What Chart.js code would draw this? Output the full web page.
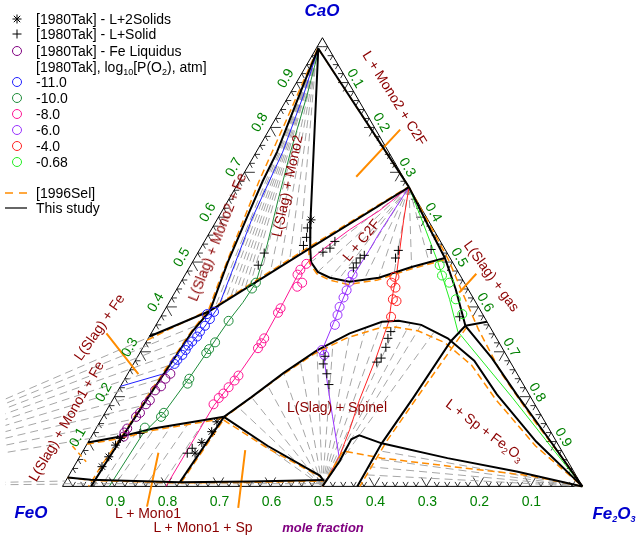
<!DOCTYPE html>
<html><head><meta charset="utf-8">
<script src="https://cdn.jsdelivr.net/npm/chart.js@4.4.0/dist/chart.umd.min.js"></script>
<style>
html,body{margin:0;padding:0;background:#fff;}
#wrap{position:relative;width:638px;height:535px;overflow:hidden;font-family:"Liberation Sans",Arial,sans-serif;}
#c{position:absolute;left:0;top:0;}
.t{position:absolute;white-space:nowrap;line-height:1;}
.rl{color:#8b0000;font-size:14px;}
.ax{color:#008000;font-size:14px;}
.vx{color:#0000cd;font-size:17px;font-weight:bold;font-style:italic;}
.mf{color:#800080;font-size:13px;font-weight:bold;font-style:italic;}
.lg{position:absolute;left:36px;font-size:14px;color:#000;white-space:nowrap;height:16px;line-height:16px;}
.ic{position:absolute;left:5px;}
sub{font-size:9px;vertical-align:-3px;line-height:0;}
</style></head><body>
<div id="wrap"><canvas id="c" width="638" height="535"></canvas>
<div id="legend"></div>
<div id="labels"></div>
</div>
<script>
// ---------- DATA (ternary compositions: [x(CaO), x(Fe2O3)], FeO = 1 - both) ----------
const VERTICES = [[1,0],[0,0],[0,1],[1,0]];
const AXIS_TICKS = [0.1,0.2,0.3,0.4,0.5,0.6,0.7,0.8,0.9];
const MINOR_TICKS = [0.02,0.04,0.06,0.08,0.1,0.12,0.14,0.16,0.18,0.2,0.22,0.24,0.26,0.28,0.3,0.32,0.34,0.36,0.38,0.4,0.42,0.44,0.46,0.48,0.5,0.52,0.54,0.56,0.58,0.6,0.62,0.64,0.66,0.68,0.7,0.72,0.74,0.76,0.78,0.8,0.82,0.84,0.86,0.88,0.9,0.92,0.94,0.96,0.98];
const MAJOR_TICKS = [0.1,0.2,0.3,0.4,0.5,0.6,0.7,0.8,0.9];

// This study: phase boundaries
const L1 = [[0.976,0.004],[0.90,0.015],[0.82,0.028],[0.745,0.040],[0.68,0.045],[0.60,0.055],[0.50,0.068],[0.391,0.088],[0.345,0.077],[0.280,0.072],[0.205,0.066],[0.111,0.060],[0.05,0.057],[0,0.055]];
const LINE_B = [[0.334,0],[0.391,0.088]];
const LINE_C = [[0.391,0.088],[0.531,0.211],[0.667,0.333]];
const LINE_L2 = [[0.976,0.004],[0.592,0.181],[0.531,0.211]];
const MONO2_C2F = [[0.976,0.004],[0.667,0.333]];
const DOME_C2F = [[0.531,0.211],[0.500,0.228],[0.478,0.252],[0.465,0.282],[0.456,0.324],[0.465,0.376],[0.489,0.427],[0.509,0.481]];
const LINE_E = [[0.667,0.333],[0.581,0.413],[0.509,0.481],[0.439,0.537],[0.358,0.596]];
const LINE_S_EDGE = [[0.358,0.596],[0.367,0.633]];
const S_TO_FE2O3 = [[0.358,0.596],[0.286,0.683],[0.205,0.771],[0.100,0.889],[0,1]];
const SPINEL_DOME = [[0.155,0.233],[0.199,0.264],[0.253,0.299],[0.303,0.338],[0.341,0.382],[0.367,0.431],[0.369,0.462],[0.360,0.510],[0.330,0.576],[0.280,0.652],[0.205,0.733],[0.100,0.861],[0,1]];
const LINE_H = [[0.358,0.596],[0.323,0.585],[0.199,0.576],[0.096,0.566],[0,0.567]];
const HUMP = [[0,0.5],[0.057,0.505],[0.105,0.503],[0.114,0.514],[0.096,0.566],[0.063,0.709],[0.033,0.857],[0,1]];
const LINE_J = [[0.009,0.221],[0.155,0.233]];
const LINE_J2 = [[0.155,0.233],[0.090,0.350],[0.024,0.483],[0.012,0.497]];
const LINE_K = [[0.020,0],[0.015,0.047],[0.009,0.221],[0.011,0.358],[0.014,0.495]];
const LINE_L = [[0.098,0],[0.111,0.056],[0.129,0.110],[0.151,0.212],[0.155,0.233]];

// This study: iso-P(O2) lines
const ISO_M11 = [[0.975,0.004],[0.87,0.028],[0.745,0.051],[0.598,0.066],[0.476,0.087],[0.40,0.100],[0.36,0.096],[0.32,0.089],[0.28,0.083],[0.253,0.074],[0.223,0]];
const ISO_M10 = [[0.975,0.006],[0.87,0.035],[0.745,0.066],[0.64,0.095],[0.54,0.124],[0.454,0.145],[0.41,0.142],[0.369,0.135],[0.306,0.129],[0.24,0.123],[0.164,0.113],[0.118,0.096],[0,0.09]];
const ISO_M8 = [[0.667,0.333],[0.614,0.302],[0.572,0.266],[0.53,0.238],[0.50,0.222],[0.47,0.217],[0.41,0.220],[0.33,0.222],[0.26,0.215],[0.18,0.201],[0.09,0.200],[0,0.199]];
const ISO_M6 = [[0.667,0.333],[0.563,0.327],[0.526,0.327],[0.467,0.324],[0.40,0.333],[0.38,0.337],[0.308,0.347],[0.242,0.387],[0.155,0.442],[0.063,0.501]];
const ISO_M4 = [[0.667,0.333],[0.592,0.360],[0.476,0.405],[0.417,0.425],[0.367,0.444],[0.286,0.460],[0.192,0.475],[0.127,0.489],[0.068,0.499],[0,0.501]];
const ISO_M068 = [[0.667,0.333],[0.587,0.400],[0.500,0.472],[0.417,0.536],[0.345,0.588],[0.199,0.765],[0,1]];

// [1996Sel] boundaries
const SEL_L1 = [[0.975,0.003],[0.82,0.022],[0.68,0.038],[0.55,0.058],[0.45,0.074],[0.395,0.084],[0.345,0.075],[0.28,0.069],[0.205,0.063],[0.111,0.058],[0.05,0.052],[0,0.05]];
const SEL_B = [[0.326,0],[0.392,0.083]];
const SEL_C = [[0.392,0.085],[0.531,0.205],[0.667,0.331]];
const SEL_DOME = [[0.531,0.208],[0.498,0.226],[0.474,0.252],[0.46,0.283],[0.45,0.324],[0.46,0.376],[0.484,0.427],[0.505,0.482]];
const SEL_E = [[0.667,0.333],[0.58,0.418],[0.505,0.49],[0.43,0.555],[0.35,0.625],[0.25,0.72],[0.15,0.83],[0.05,0.945],[0,1]];
const SEL_MONO2_C2F = [[0.972,0.008],[0.667,0.333]];
const SEL_SPINEL = [[0.15,0.232],[0.195,0.262],[0.245,0.296],[0.295,0.336],[0.33,0.38],[0.352,0.43],[0.355,0.462],[0.347,0.51],[0.32,0.576],[0.27,0.652],[0.195,0.735],[0.09,0.865],[0,1]];
const SEL_H = [[0.355,0.60],[0.2,0.583],[0.1,0.573],[0,0.572]];
const SEL_J2 = [[0.148,0.236],[0.085,0.352],[0.02,0.488]];
const SEL_HUMP = [[0,0.5],[0.079,0.50],[0.063,0.583],[0.041,0.752],[0.024,0.886],[0,1]];
const SEL_K = [[0.02,0],[0.013,0.05],[0.008,0.22],[0.009,0.36],[0.012,0.495]];
const SEL_L = [[0.094,0],[0.107,0.058],[0.125,0.112],[0.147,0.214],[0.152,0.232]];
const SEL_J = [[0.009,0.224],[0.153,0.236]];

// tie lines
const FE_POINT = [0,-0.5];
const C2F_POINT = [0.667,0.333];
const MONO2_POINT = [0.96,0.008];
const MAGNETITE = [0,0.5];
const HEMATITE = [0,1];
const TIE_FE_ENDS = [[0.391,0.088],[0.36,0.081],[0.33,0.076],[0.30,0.073],[0.27,0.071],[0.24,0.069],[0.21,0.066],[0.18,0.064],[0.15,0.062],[0.12,0.061],[0.012,0],[0.005,0]];
const TIE_MONO2_ENDS = [[0.398,0.094],[0.405,0.100],[0.412,0.106],[0.419,0.113],[0.425,0.119],[0.432,0.125],[0.439,0.131],[0.446,0.137],[0.460,0.149],[0.474,0.162],[0.488,0.174],[0.501,0.186],[0.515,0.198]];
const TIE_C2F_ENDS = [[0.500,0.228],[0.478,0.252],[0.465,0.282],[0.458,0.30],[0.456,0.324],[0.459,0.35],[0.465,0.376],[0.476,0.40],[0.489,0.427],[0.50,0.455]];
const TIE_SPINEL_ENDS = [[0.155,0.233],[0.177,0.249],[0.199,0.264],[0.226,0.281],[0.253,0.299],[0.279,0.318],[0.303,0.338],[0.323,0.359],[0.341,0.382],[0.356,0.406],[0.367,0.431],[0.369,0.462],[0.365,0.487],[0.360,0.510],[0.346,0.543]];
const TIE_HEM_ENDS = [[0.080,0.566],[0.062,0.566],[0.044,0.567],[0.026,0.567]];
const TIE_MONO1 = [[0.012,0.075,0.12,0.082],[0.012,0.10,0.129,0.112],[0.012,0.13,0.136,0.142],[0.012,0.16,0.142,0.172],[0.012,0.19,0.148,0.200],[0.006,0,0.006,0.5]];

// label pointers
const POINTERS = [[0.690,0.220,0.795,0.252],[0.341,-0.086,0.250,0.021],[0.075,0.147,-0.045,0.185],[0.081,0.311,-0.048,0.362],[0.474,0.559,0.432,0.547]];
const POINTER_DASHED = [[0.090,-0.026,0.055,0.018]];

// experimental points [1980Tak]
const TAK_L_2SOLIDS = [[0.594,0.181],[0.144,0.225],[0.122,0.226],[0.098,0.219],[0.074,0.218],[0.107,0.058],[0.092,0.056],[0.066,0.056],[0.044,0.054]];
const TAK_L_SOLID = [[0.576,0.183],[0.555,0.192],[0.537,0.195],[0.520,0.128],[0.493,0.130],[0.522,0.240],[0.531,0.249],[0.546,0.251],[0.498,0.316],[0.509,0.318],[0.515,0.323],[0.487,0.316],[0.509,0.386],[0.526,0.383],[0.290,0.360],[0.273,0.365],[0.251,0.383],[0.227,0.399],[0.345,0.459],[0.330,0.461],[0.310,0.467],[0.286,0.470],[0.277,0.466],[0.528,0.445],[0.378,0.575],[0.074,0.203],[0.085,0.207],[0.118,0.090]];
const TAK_FE_LIQ = [[0.251,0.082],[0.240,0.078],[0.223,0.078],[0.214,0.071],[0.192,0.072],[0.183,0.069],[0.164,0.067],[0.155,0.064],[0.129,0.060],[0.120,0.059],[0.111,0.062]];
const TAK_M11 = [[0.389,0.097],[0.384,0.086],[0.373,0.097],[0.358,0.095],[0.345,0.092],[0.334,0.092],[0.323,0.088],[0.314,0.085],[0.304,0.085],[0.293,0.084],[0.282,0.080],[0.273,0.079]];
const TAK_M10 = [[0.454,0.145],[0.441,0.144],[0.369,0.135],[0.321,0.133],[0.306,0.129],[0.297,0.128],[0.240,0.124],[0.229,0.126],[0.164,0.113],[0.155,0.112],[0.131,0.093]];
const TAK_M8 = [[0.496,0.221],[0.483,0.216],[0.472,0.216],[0.454,0.234],[0.445,0.229],[0.397,0.221],[0.387,0.221],[0.330,0.223],[0.319,0.223],[0.308,0.222],[0.247,0.215],[0.236,0.213],[0.221,0.209],[0.207,0.206],[0.197,0.202],[0.183,0.199]];
const TAK_M6 = [[0.472,0.322],[0.456,0.324],[0.437,0.328],[0.421,0.330],[0.400,0.333],[0.382,0.338],[0.360,0.344],[0.304,0.347],[0.293,0.357]];
const TAK_M4 = [[0.467,0.405],[0.454,0.406],[0.443,0.419],[0.417,0.427],[0.413,0.436],[0.378,0.443]];
const TAK_M068 = [[0.493,0.479],[0.470,0.495],[0.454,0.517],[0.417,0.548],[0.384,0.577]];

// colours
const C_BLUE='#1f1fff', C_GREEN='#1e8c3a', C_PINK='#ff1493', C_VIOLET='#9932ff', C_RED='#ff2020', C_LIME='#22ee22', C_FE='#800080', C_ORANGE='#ff8c00', C_GRAY='#a6a6a6';

// ---------- helpers ----------
const SQ = Math.sqrt(3)/2;
const GAP = {x:null,y:null};
function tp(a,c){ return {x:c + a/2, y:a*SQ}; }
function poly(arr){ return arr.map(p=>tp(p[0],p[1])); }
function fan(o, ends){ const out=[]; ends.forEach(e=>{ out.push(tp(o[0],o[1]), tp(e[0],e[1]), GAP); }); return out; }
function segs(list){ const out=[]; list.forEach(s=>{ out.push(tp(s[0],s[1]), tp(s[2],s[3]), GAP); }); return out; }
function tickSegs(){
  const out=[];
  MINOR_TICKS.forEach(t=>{
    const L = MAJOR_TICKS.some(m=>Math.abs(m-t)<1e-9) ? 0.02 : 0.01;
    out.push(tp(L,t), tp(0,t), tp(L,t-L), GAP);
    out.push(tp(t,L), tp(t,0), tp(t-L,L), GAP);
    out.push(tp(t,1-t-L), tp(t,1-t), tp(t-L,1-t), GAP);
  });
  return out;
}
function ln(data, color, width, dash, order){
  return {data, showLine:true, borderColor:color, borderWidth:width, borderDash:dash||[], pointRadius:0, fill:false, tension:0, spanGaps:false, order};
}
function mk(arr, color, style, r, order){
  return {data:poly(arr), showLine:false, pointStyle:style, pointRadius:r, pointBorderColor:color, pointBackgroundColor:'rgba(0,0,0,0)', pointBorderWidth:1, borderColor:color, backgroundColor:'rgba(0,0,0,0)', order};
}

const DASH_GRAY=[8,5], DASH_OR=[7,4];
const datasets = [
  mk(TAK_L_2SOLIDS,'#000','star',4.5,0),
  mk(TAK_L_SOLID,'#000','cross',4.5,0),
  mk(TAK_FE_LIQ,C_FE,'circle',4.5,0),
  mk(TAK_M11,C_BLUE,'circle',4.5,0),
  mk(TAK_M10,C_GREEN,'circle',4.5,0),
  mk(TAK_M8,C_PINK,'circle',4.5,0),
  mk(TAK_M6,C_VIOLET,'circle',4.5,0),
  mk(TAK_M4,C_RED,'circle',4.5,0),
  mk(TAK_M068,C_LIME,'circle',4.5,0),
  ln(poly(L1),'#000',2,null,1), ln(poly(LINE_B),'#000',2,null,1), ln(poly(LINE_C),'#000',2,null,1),
  ln(poly(LINE_L2),'#000',2,null,1), ln(poly(MONO2_C2F),'#000',2,null,1), ln(poly(DOME_C2F),'#000',2,null,1),
  ln(poly(LINE_E),'#000',2,null,1), ln(poly(LINE_S_EDGE),'#000',2,null,1), ln(poly(S_TO_FE2O3),'#000',2,null,1),
  ln(poly(SPINEL_DOME),'#000',2,null,1), ln(poly(LINE_H),'#000',2,null,1), ln(poly(HUMP),'#000',2,null,1),
  ln(poly(LINE_J),'#000',2,null,1), ln(poly(LINE_J2),'#000',2,null,1), ln(poly(LINE_K),'#000',2,null,1),
  ln(poly(LINE_L),'#000',2,null,1),
  ln(segs(POINTERS),C_ORANGE,2,null,1), ln(segs(POINTER_DASHED),C_ORANGE,1.5,[5,4],1),
  ln(poly(SEL_L1),C_ORANGE,1.5,DASH_OR,2), ln(poly(SEL_B),C_ORANGE,1.5,DASH_OR,2), ln(poly(SEL_C),C_ORANGE,1.5,DASH_OR,2),
  ln(poly(SEL_DOME),C_ORANGE,1.5,DASH_OR,2), ln(poly(SEL_E),C_ORANGE,1.5,DASH_OR,2), ln(poly(SEL_MONO2_C2F),C_ORANGE,1.5,DASH_OR,2),
  ln(poly(SEL_SPINEL),C_ORANGE,1.5,DASH_OR,2), ln(poly(SEL_H),C_ORANGE,1.5,DASH_OR,2), ln(poly(SEL_J2),C_ORANGE,1.5,DASH_OR,2),
  ln(poly(SEL_HUMP),C_ORANGE,1.5,DASH_OR,2), ln(poly(SEL_K),C_ORANGE,1.5,DASH_OR,2), ln(poly(SEL_L),C_ORANGE,1.5,DASH_OR,2),
  ln(poly(SEL_J),C_ORANGE,1.5,DASH_OR,2),
  ln(poly(ISO_M11),C_BLUE,1,null,3), ln(poly(ISO_M10),C_GREEN,1,null,3), ln(poly(ISO_M8),C_PINK,1,null,3),
  ln(poly(ISO_M6),C_VIOLET,1,null,3), ln(poly(ISO_M4),C_RED,1,null,3), ln(poly(ISO_M068),C_LIME,1,null,3),
  ln(fan(FE_POINT,TIE_FE_ENDS),C_GRAY,1,DASH_GRAY,4),
  ln(fan(MONO2_POINT,TIE_MONO2_ENDS),C_GRAY,1,DASH_GRAY,4),
  ln(fan(C2F_POINT,TIE_C2F_ENDS),C_GRAY,1,DASH_GRAY,4),
  ln(fan(MAGNETITE,TIE_SPINEL_ENDS),C_GRAY,1,DASH_GRAY,4),
  ln(fan(HEMATITE,TIE_HEM_ENDS),C_GRAY,1,DASH_GRAY,4),
  ln(segs(TIE_MONO1),C_GRAY,1,DASH_GRAY,4),
  ln(poly(VERTICES),'#000',1,null,5),
  ln(tickSegs(),'#000',0.8,null,5)
];

const XMIN=-58/529, XMAX=580/529, YMIN=-44/529, YMAX=491/529;
const chart = new Chart(document.getElementById('c'), {
  type:'scatter',
  data:{datasets},
  options:{responsive:false, animation:false, devicePixelRatio:1, events:[],
    layout:{padding:0},
    plugins:{legend:{display:false}, tooltip:{enabled:false}},
    scales:{x:{type:'linear',min:XMIN,max:XMAX,display:false}, y:{type:'linear',min:YMIN,max:YMAX,display:false}}}
});

// ---------- text ----------
const labels = document.getElementById('labels');
function addText(html, x, y, rot, cls){
  const d=document.createElement('div'); d.className='t '+cls; d.innerHTML=html;
  d.style.left=x+'px'; d.style.top=y+'px';
  d.style.transform='translate(-50%,-50%) rotate('+rot+'deg)';
  labels.appendChild(d);
}
function px(a,c){ const p=tp(a,c); return [chart.scales.x.getPixelForValue(p.x), chart.scales.y.getPixelForValue(p.y)]; }
AXIS_TICKS.forEach(v=>{
  const s=v.toFixed(1);
  let p=px(0,1-v); addText(s,p[0]+1,p[1]+15,0,'ax');
  p=px(v,0); addText(s,p[0]-11,p[1]-5,-60,'ax');
  p=px(1-v,v); addText(s,p[0]+8,p[1]-5,60,'ax');
});
const REGION_LABELS = [
  ['L + Mono2 + C2F',395,98,58],
  ['L(Slag) + Mono2',287,186,-78],
  ['L(Slag) + Mono2 + Fe',217,237,-68.5],
  ['L + C2F',361,240,-50.6],
  ['L(Slag) + gas',492,276,54],
  ['L(Slag) + Fe',99,327,-55],
  ['L(Slag) + Mono1 + Fe',66,421,-60],
  ['L + Mono1',148,513,0],
  ['L + Mono1 + Sp',203,527,0],
  ['L(Slag) + Spinel',337,407,0],
  ['L + Sp + Fe<sub>2</sub>O<sub>3</sub>',485,430,37]
];
REGION_LABELS.forEach(l=>addText(l[0],l[1],l[2],l[3],'rl'));
addText('CaO',322,10,0,'vx');
addText('FeO',31,512,0,'vx');
addText('Fe<sub>2</sub>O<sub>3</sub>',614,513,0,'vx');
addText('mole fraction',323,527,0,'mf');

const legend=document.getElementById('legend');
const LEGEND_ROWS = [
  ['[1980Tak] - L+2Solids',19,'star','#000'],
  ['[1980Tak] - L+Solid',34,'plus','#000'],
  ['[1980Tak] - Fe Liquidus',51,'circle',C_FE],
  ['[1980Tak], log<sub>10</sub>[P(O<sub>2</sub>), atm]',67,'',''],
  ['-11.0',82,'circle',C_BLUE],
  ['-10.0',98,'circle',C_GREEN],
  ['-8.0',114,'circle',C_PINK],
  ['-6.0',130,'circle',C_VIOLET],
  ['-4.0',146,'circle',C_RED],
  ['-0.68',162,'circle',C_LIME],
  ['[1996Sel]',193,'dash',C_ORANGE],
  ['This study',208,'line','#000']
];
LEGEND_ROWS.forEach(r=>{
  const d=document.createElement('div'); d.className='lg'; d.style.top=(r[1]-8)+'px'; d.innerHTML=r[0]; legend.appendChild(d);
  if(!r[2]) return;
  let svg='';
  if(r[2]==='circle') svg='<circle cx="12" cy="8" r="4.5" fill="none" stroke="'+r[3]+'" stroke-width="1"/>';
  if(r[2]==='plus') svg='<path d="M7.5 8H16.5M12 3.5V12.5" stroke="#000" stroke-width="1"/>';
  if(r[2]==='star') svg='<path d="M7.5 8H16.5M12 3.5V12.5M8.8 4.8L15.2 11.2M15.2 4.8L8.8 11.2" stroke="#000" stroke-width="1"/>';
  if(r[2]==='dash') svg='<path d="M0 8H8M14 8H22" stroke="'+r[3]+'" stroke-width="1.5"/>';
  if(r[2]==='line') svg='<path d="M0 8H22" stroke="#000" stroke-width="1.2"/>';
  const s=document.createElement('div'); s.className='ic'; s.style.top=(r[1]-8)+'px';
  s.innerHTML='<svg width="24" height="16">'+svg+'</svg>';
  legend.appendChild(s);
});
</script>
</body></html>
